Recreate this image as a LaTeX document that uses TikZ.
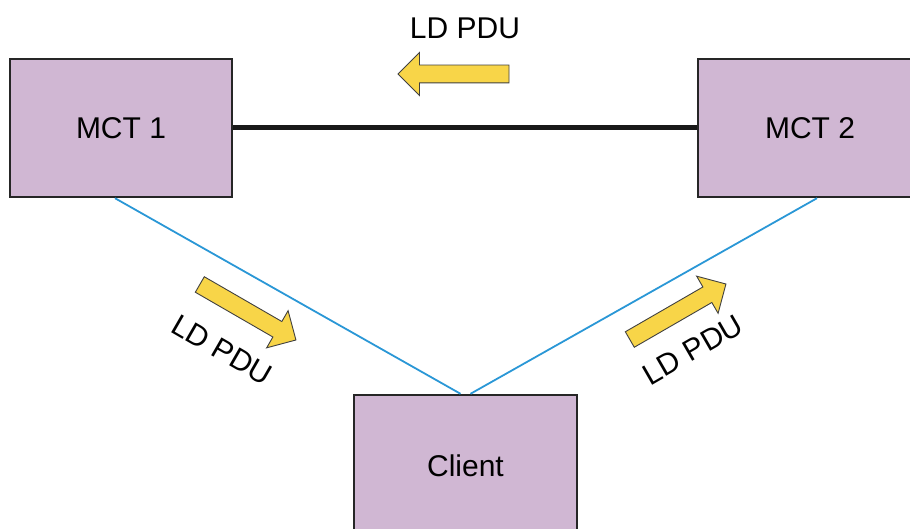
\documentclass[tikz,border=0pt]{standalone}
\usepackage{fontspec}
\setmainfont{Liberation Sans}
\usepackage{tikz}
\usetikzlibrary{positioning, shapes.arrows}
\definecolor{mctpurple}{HTML}{D0B7D3}
\definecolor{pduyellow}{HTML}{F8D548}
\definecolor{linkblue}{HTML}{2A97D6}

\begin{document}
\begin{tikzpicture}[x=1pt, y=-1pt,
  every node/.style={align=center, font=\fontsize{30}{35}\selectfont},
  box/.style={draw=black!85, line width=2.4pt, fill=mctpurple, minimum width=222pt, minimum height=138pt},
  pdu/.style={single arrow, draw=black!75, line width=0.9pt, fill=pduyellow, inner sep=0pt, inner ysep=8.5pt, minimum height=111pt, single arrow head extend=12.5pt},
  trunk/.style={line width=5pt, black!90},
  link/.style={linkblue, line width=1.8pt}
  ]
\useasboundingbox (0,0) rectangle (910,529);

\node[box] (mct1) at (121,128) {MCT 1};
\node[box, minimum width=224pt] (mct2) at (810,128) {MCT 2};
\node[box, minimum width=223pt, minimum height=142pt] (client) at (465.5,466) {Client};

\draw[trunk] (mct1) -- (mct2);
\draw[link] ([xshift=-6pt]mct1.south) -- ([xshift=-5pt]client.north);
\draw[link] ([xshift=7pt]mct2.south) -- ([xshift=5pt]client.north);

% LD PDU arrows
\node[pdu, shape border rotate=180] (toparrow) at (458,74) {};
\node (toplabel) at (465,28) {LD PDU};
\node[pdu, rotate=-30] (leftarrow) at (244,310) {};
\node[rotate=-30] (leftlabel) at (222,350) {LD PDU};
\node[pdu, rotate=30] (rightarrow) at (674,314) {};
\node[rotate=30] (rightlabel) at (693,350) {LD PDU};
\end{tikzpicture}
\end{document}
